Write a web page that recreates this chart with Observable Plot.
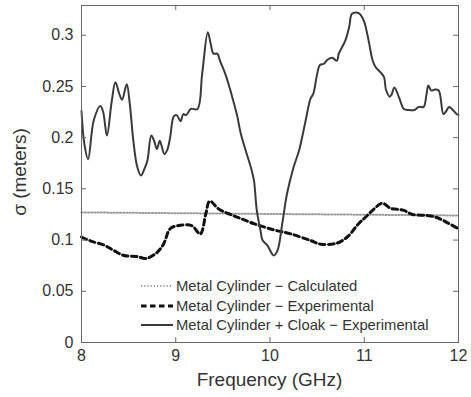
<!DOCTYPE html>
<html>
<head>
<meta charset="utf-8">
<script src="https://cdn.jsdelivr.net/npm/d3@7"></script>
<script src="https://cdn.jsdelivr.net/npm/@observablehq/plot@0.6"></script>
<style>
  html, body { margin: 0; padding: 0; background: #fff; }
  #wrap { position: relative; width: 471px; height: 397px; font-family: "Liberation Sans", Arial, sans-serif; color: #333; }
  .ttl { position: absolute; font-size: 19px; color: #333; white-space: nowrap; }
  #legend { position: absolute; left: 140px; top: 276px; font-size: 14.8px; color: #333; }
  #legend .row { display: flex; align-items: center; height: 19.7px; white-space: nowrap; }
  #legend svg { width: 34px; height: 10px; margin-right: 2px; }
</style>
</head>
<body>
<div id="wrap"></div>
<script>
// ---- data ----
const xTicks = [8, 9, 10, 11, 12];
const xTickLabels = ["8", "9", "10", "11", "12"];
const yTicks = [0, 0.05, 0.1, 0.15, 0.2, 0.25, 0.3];
const yTickLabels = ["0", "0.05", "0.1", "0.15", "0.2", "0.25", "0.3"];
const seriesNames = [
  "Metal Cylinder \u2212 Calculated",
  "Metal Cylinder \u2212 Experimental",
  "Metal Cylinder + Cloak \u2212 Experimental"
];

// Metal Cylinder – Calculated (dotted)
const calcFreq  = [8.0, 12.0];
const calcSigma = [0.127, 0.124];

// Metal Cylinder – Experimental (dashed)
const expFreq = [8.00, 8.10, 8.24, 8.34, 8.45, 8.59, 8.68, 8.79, 8.87, 8.94, 9.02, 9.17, 9.26, 9.32, 9.36, 9.46, 9.58, 9.69, 9.83, 10.04, 10.22, 10.43, 10.54, 10.71, 10.82, 10.94, 11.01, 11.10, 11.19, 11.28, 11.35, 11.42, 11.51, 11.67, 11.77, 11.88, 12.00];
const expSigma = [0.103, 0.099, 0.095, 0.090, 0.085, 0.084, 0.082, 0.087, 0.096, 0.111, 0.114, 0.114, 0.106, 0.126, 0.138, 0.130, 0.125, 0.121, 0.116, 0.110, 0.106, 0.0996, 0.096, 0.097, 0.103, 0.116, 0.122, 0.130, 0.136, 0.131, 0.130, 0.129, 0.125, 0.124, 0.122, 0.117, 0.111];

// Metal Cylinder + Cloak – Experimental (solid)
const cloakFreq = [8.00, 8.03, 8.07, 8.13, 8.20, 8.23, 8.27, 8.32, 8.36, 8.40, 8.43, 8.48, 8.51, 8.55, 8.59, 8.63, 8.67, 8.70, 8.74, 8.77, 8.80, 8.83, 8.85, 8.88, 8.91, 8.94, 8.98, 9.01, 9.05, 9.08, 9.11, 9.16, 9.23, 9.28, 9.34, 9.37, 9.40, 9.44, 9.47, 9.53, 9.58, 9.61, 9.65, 9.69, 9.74, 9.80, 9.83, 9.86, 9.90, 9.92, 9.97, 10.04, 10.08, 10.13, 10.18, 10.25, 10.31, 10.37, 10.43, 10.46, 10.50, 10.53, 10.57, 10.61, 10.66, 10.71, 10.73, 10.80, 10.84, 10.87, 10.93, 10.96, 11.00, 11.03, 11.05, 11.09, 11.12, 11.17, 11.21, 11.23, 11.27, 11.29, 11.32, 11.37, 11.42, 11.47, 11.53, 11.58, 11.63, 11.66, 11.68, 11.71, 11.75, 11.79, 11.84, 11.87, 11.90, 11.94, 11.98, 12.00];
const cloakSigma = [0.226, 0.194, 0.179, 0.217, 0.231, 0.225, 0.202, 0.235, 0.254, 0.243, 0.237, 0.252, 0.235, 0.197, 0.172, 0.163, 0.170, 0.178, 0.202, 0.197, 0.189, 0.197, 0.192, 0.184, 0.188, 0.200, 0.221, 0.222, 0.216, 0.223, 0.222, 0.228, 0.228, 0.262, 0.303, 0.292, 0.282, 0.282, 0.275, 0.261, 0.246, 0.236, 0.222, 0.204, 0.188, 0.170, 0.158, 0.129, 0.109, 0.100, 0.095, 0.085, 0.090, 0.116, 0.145, 0.171, 0.188, 0.213, 0.238, 0.243, 0.262, 0.271, 0.272, 0.276, 0.278, 0.275, 0.282, 0.295, 0.308, 0.321, 0.322, 0.320, 0.313, 0.302, 0.293, 0.275, 0.269, 0.264, 0.259, 0.247, 0.240, 0.242, 0.249, 0.239, 0.228, 0.227, 0.227, 0.230, 0.230, 0.242, 0.251, 0.246, 0.247, 0.246, 0.223, 0.226, 0.230, 0.227, 0.223, 0.222];

// ---- build tables ----
const calc = calcFreq.map((f, i) => ({f, s: calcSigma[i]}));
const exp = expFreq.map((f, i) => ({f, s: expSigma[i]}));
const cloak = cloakFreq.map((f, i) => ({f, s: cloakSigma[i]}));
const xLabelOf = new Map(xTicks.map((t, i) => [t, xTickLabels[i]]));
const yLabelOf = new Map(yTicks.map((t, i) => [t, yTickLabels[i]]));

const styles = [
  {stroke: "#9a9a9a", strokeWidth: 2, strokeDasharray: "1.2,2"},
  {stroke: "#111", strokeWidth: 3, strokeDasharray: "5.5,3.5"},
  {stroke: "#3a3a3a", strokeWidth: 2}
];
const tickStroke = "#666";
const W = 471, H = 397, mL = 81, mR = 13, mT = 5, mB = 55;
const innerW = W - mL - mR, innerH = H - mT - mB, tickLen = 5;

const chart = Plot.plot({
  width: W,
  height: H,
  marginLeft: mL,
  marginRight: mR,
  marginTop: mT,
  marginBottom: mB,
  style: {fontFamily: "'Liberation Sans', Arial, sans-serif", fontSize: "16px", color: "#333", background: "#fff"},
  x: {domain: [8, 12]},
  y: {domain: [0, 0.329]},
  marks: [
    Plot.lineY(calc, {x: "f", y: "s", ...styles[0]}),
    Plot.lineY(exp, {x: "f", y: "s", curve: "catmull-rom", ...styles[1]}),
    Plot.lineY(cloak, {x: "f", y: "s", curve: "catmull-rom", ...styles[2]}),
    Plot.frame({stroke: tickStroke, strokeWidth: 1}),
    // inward tick marks on all four sides
    Plot.tickX(xTicks, {x: d => d, insetTop: innerH - tickLen, stroke: tickStroke}),
    Plot.tickX(xTicks, {x: d => d, insetBottom: innerH - tickLen, stroke: tickStroke}),
    Plot.tickY(yTicks, {y: d => d, insetRight: innerW - tickLen, stroke: tickStroke}),
    Plot.tickY(yTicks, {y: d => d, insetLeft: innerW - tickLen, stroke: tickStroke}),
    // tick labels
    Plot.axisX({anchor: "bottom", ticks: xTicks, tickSize: 0, tickPadding: 7, tickFormat: d => xLabelOf.get(d), label: null, fill: "#333", fontSize: 16}),
    Plot.axisY({anchor: "left", ticks: yTicks, tickSize: 0, tickPadding: 8, tickFormat: d => yLabelOf.get(d), label: null, fill: "#333", fontSize: 16})
  ]
});

const wrap = document.getElementById("wrap");
wrap.appendChild(chart);

// axis titles
const xt = document.createElement("div");
xt.className = "ttl";
xt.textContent = "Frequency (GHz)";
xt.style.left = "0px"; xt.style.width = "100%";
xt.style.top = "369px";
xt.style.textAlign = "center";
xt.style.paddingLeft = "68px"; xt.style.boxSizing = "border-box";
wrap.appendChild(xt);

const yt = document.createElement("div");
yt.className = "ttl";
yt.textContent = "\u03c3 (meters)";
yt.style.left = "20px";
yt.style.top = "172px";
yt.style.transform = "translate(-50%, -50%) rotate(-90deg)";
wrap.appendChild(yt);

// legend (inside plot area, no box)
const leg = document.createElement("div");
leg.id = "legend";
seriesNames.forEach((name, i) => {
  const row = document.createElement("div");
  row.className = "row";
  const st = styles[i];
  row.innerHTML = `<svg viewBox="0 0 34 10"><line x1="1" y1="5" x2="33" y2="5" stroke="${st.stroke}" stroke-width="${st.strokeWidth}" ${st.strokeDasharray ? `stroke-dasharray="${st.strokeDasharray}"` : ""}/></svg><span>${name}</span>`;
  leg.appendChild(row);
});
wrap.appendChild(leg);
</script>
</body>
</html>
